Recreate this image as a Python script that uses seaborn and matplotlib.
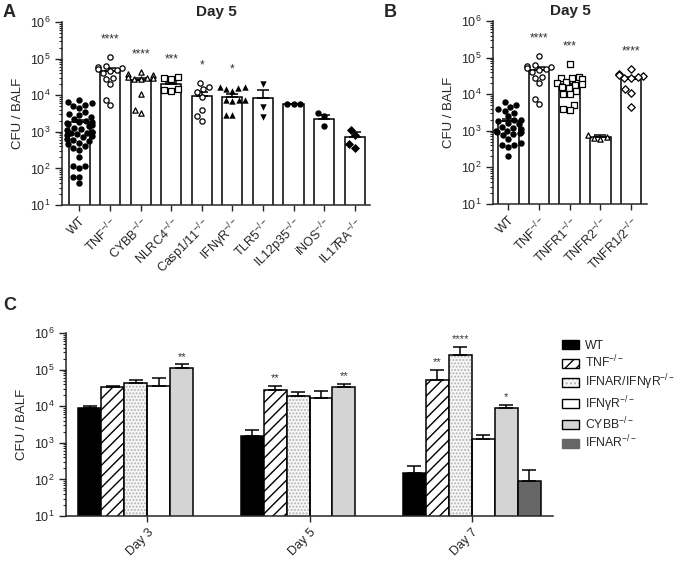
import warnings
import numpy as np
import pandas as pd
import matplotlib
matplotlib.use('Agg')
import matplotlib.pyplot as plt
import seaborn as sns
from matplotlib.patches import Patch, Rectangle

warnings.filterwarnings('ignore')

# ---- panel A : day 5, CFU per BALF ----
names_a = ['WT', 'TNF', 'CYBB', 'NLRC4', 'Casp1/11', 'IFNγR', 'TLR5', 'IL12p35', 'iNOS', 'IL17RA']
labels_a = ['WT', 'TNF$^{-/-}$', 'CYBB$^{-/-}$', 'NLRC4$^{-/-}$', 'Casp1/11$^{-/-}$', 'IFNγR$^{-/-}$',
            'TLR5$^{-/-}$', 'IL12p35$^{-/-}$', 'iNOS$^{-/-}$', 'IL17RA$^{-/-}$']
mean_a = [1800, 46000, 26000, 20000, 9500, 8700, 8600, 5600, 2300, 700]
sem_a = [250, 8000, 4000, 2500, 3000, 2000, 5000, 100, 550, 300]
stars_a = ['', '****', '****', '***', '*', '*', '', '', '', '']
wt_a = [7400, 6500, 6000, 5500, 5000, 4500, 3500, 3000, 2800, 2500, 2200, 2000, 1900, 1800, 1700,
        1600, 1500, 1400, 1300, 1200, 1100, 1000, 1000, 950, 900, 850, 800, 750, 700, 650, 600,
        550, 500, 450, 400, 350, 320, 200, 120, 120, 100, 60, 60, 40]
tnf_a = [110000, 62000, 58000, 55000, 52000, 50000, 45000, 40000, 30000, 28000, 20000, 7500, 5300]
cybb_a = [44000, 38000, 35000, 32000, 30000, 29000, 28000, 27000, 10500, 4000, 3200]
nlrc4_a = [29000, 27000, 31000, 14000, 13000, 14500]
casp_a = [22000, 17000, 15000, 12000, 9000, 4000, 2700, 2000]
ifngr_a = [17000, 16500, 16000, 15000, 13000, 7500, 7200, 7000, 7400, 2900, 2800]
tlr5_a = [20000, 4700, 2500]
il12_a = [5600, 5600, 5600]
inos_a = [3300, 2700, 1400]
il17_a = [1100, 800, 450, 350]
points_a = [wt_a, tnf_a, cybb_a, nlrc4_a, casp_a, ifngr_a, tlr5_a, il12_a, inos_a, il17_a]

# ---- panel B : TNF receptors, day 5 ----
names_b = ['WT', 'TNF', 'TNFR1', 'TNFR2', 'TNFR1/2']
labels_b = ['WT', 'TNF$^{-/-}$', 'TNFR1$^{-/-}$', 'TNFR2$^{-/-}$', 'TNFR1/2$^{-/-}$']
mean_b = [1800, 46000, 19000, 690, 26000]
sem_b = [300, 8000, 4000, 60, 4000]
stars_b = ['', '****', '***', '', '****']
wt_b = [6000, 5000, 4500, 4000, 3500, 3000, 2500, 2000, 2000, 1800, 1600, 1500, 1300, 1200, 1100,
        1000, 1000, 950, 900, 850, 800, 750, 600, 450, 420, 400, 350, 200]
tnf_b = [110000, 62000, 58000, 55000, 52000, 50000, 45000, 40000, 30000, 28000, 20000, 7500, 5300]
tnfr1_b = [67000, 29000, 28000, 27000, 26000, 22000, 20000, 19000, 18000, 16000, 15000, 12000,
           10000, 10000, 5000, 4000, 3600]
tnfr2_b = [780, 680, 600, 640]
tnfr12_b = [49000, 35000, 33000, 31000, 30000, 28000, 27000, 14000, 11000, 4600]
points_b = [wt_b, tnf_b, tnfr1_b, tnfr2_b, tnfr12_b]

# ---- panel C : time course ----
days = ['Day 3', 'Day 5', 'Day 7']
genotypes_c = ['WT', 'TNF', 'IFNAR/IFNγR', 'IFNγR', 'CYBB', 'IFNAR']
legend_c = ['WT', 'TNF$^{-/-}$', 'IFNAR/IFNγR$^{-/-}$', 'IFNγR$^{-/-}$', 'CYBB$^{-/-}$', 'IFNAR$^{-/-}$']
wt_c = [8700, 1560, 153]
tnf_c = [34000, 27700, 52000]
dko_c = [44000, 19000, 245000]
ifngr_c = [36000, 16400, 1270]
cybb_c = [108000, 32800, 9100]
ifnar_c = [np.nan, np.nan, 89]
wt_c_err = [1200, 680, 84]
tnf_c_err = [1000, 7800, 48000]
dko_c_err = [8000, 5000, 165000]
ifngr_c_err = [22000, 9600, 330]
cybb_c_err = [30000, 7200, 1600]
ifnar_c_err = [np.nan, np.nan, 89]
stars_c = [['', '', ''], ['', '**', '**'], ['', '', '****'], ['', '', ''], ['**', '**', '*'], ['', '', '']]

sns.set_style('ticks')
plt.rcParams['font.family'] = ['Liberation Sans', 'DejaVu Sans']
plt.rcParams['mathtext.fontset'] = 'custom'
plt.rcParams['mathtext.rm'] = 'Liberation Sans'
plt.rcParams['mathtext.it'] = 'Liberation Sans:italic'
plt.rcParams['mathtext.bf'] = 'Liberation Sans:bold'
plt.rcParams['hatch.linewidth'] = 1.0
plt.rcParams['axes.linewidth'] = 1.1

fig = plt.figure(figsize=(6.77, 5.62), dpi=100)
ax_a = fig.add_axes([62 / 677, 1 - 205 / 562, 308 / 677, 183 / 562])
ax_b = fig.add_axes([493 / 677, 1 - 204 / 562, 154 / 677, 183 / 562])
ax_c = fig.add_axes([66 / 677, 1 - 516 / 562, 487 / 677, 183 / 562])

markers_a = ['o', 'o', '^', 's', 'o', '^', 'v', 'o', 'o', 'D']
filled_a = [True, False, False, False, False, True, True, True, True, True]
markers_b = ['o', 'o', 's', '^', 'D']
filled_b = [True, False, False, False, False]


def dot_panel(ax, names, labels, means, sems, points, markers, filled, stars, width, xlim):
    ax.set_yscale('log')
    ax.set_ylim(10, 1e6)
    sns.barplot(x=names, y=means, order=names, color='white', edgecolor='black',
                linewidth=1.1, width=width, ax=ax)
    ax.errorbar(range(len(names)), means, yerr=[np.zeros(len(sems)), sems], fmt='none',
                ecolor='black', elinewidth=1.1, capsize=4, capthick=1.1, zorder=3)
    for name, pts, m, f in zip(names, points, markers, filled):
        if f:
            sns.swarmplot(x=[name] * len(pts), y=pts, order=names, marker=m, color='black',
                          linewidth=0, size=4.6, ax=ax, zorder=4)
        else:
            sns.swarmplot(x=[name] * len(pts), y=pts, order=names, marker=m, color='white',
                          edgecolor='black', linewidth=0.9, size=3.8, ax=ax, zorder=4)
    for i, (pts, s) in enumerate(zip(points, stars)):
        if s:
            ax.text(i, max(pts) * 3, s, ha='center', va='center', fontsize=8.5, color='#333333')
    ax.set_xlim(*xlim)
    ax.set_xticks(range(len(names)))
    ax.set_xticklabels(labels, rotation=45, ha='right', rotation_mode='anchor', fontsize=9)
    ax.set_ylabel('CFU / BALF', fontsize=9.5)
    ax.set_title('Day 5', fontweight='bold', fontsize=11, pad=4)
    ax.tick_params(axis='y', labelsize=9, length=5, width=1)
    ax.tick_params(axis='y', which='minor', length=2.5, width=0.8)
    ax.tick_params(axis='x', length=4, width=1)
    sns.despine(ax=ax)


dot_panel(ax_a, names_a, labels_a, mean_a, sem_a, points_a, markers_a, filled_a, stars_a, 0.66, (-0.57, 9.5))
dot_panel(ax_b, names_b, labels_b, mean_b, sem_b, points_b, markers_b, filled_b, stars_b, 0.68, (-0.5, 4.52))

# panel C
colors_c = ['black', 'white', '#f7f7f7', 'white', '#d4d4d4', '#666666']
rows = []
for g, vals, errs, st in zip(genotypes_c,
                             [wt_c, tnf_c, dko_c, ifngr_c, cybb_c, ifnar_c],
                             [wt_c_err, tnf_c_err, dko_c_err, ifngr_c_err, cybb_c_err, ifnar_c_err],
                             stars_c):
    for d, v, e, s in zip(days, vals, errs, st):
        if not np.isnan(v):
            rows.append([d, g, v, e, s])
df_c = pd.DataFrame(rows, columns=['day', 'genotype', 'cfu', 'sem', 'star'])

ax_c.set_yscale('log')
ax_c.set_ylim(10, 1e6)
sns.barplot(data=df_c, x='day', y='cfu', hue='genotype', order=days, hue_order=genotypes_c,
            palette=dict(zip(genotypes_c, colors_c)), edgecolor='black', linewidth=1.1,
            width=0.85, errorbar=None, legend=False, saturation=1, ax=ax_c)

for g, cont in zip(genotypes_c, ax_c.containers):
    sub = df_c[df_c['genotype'] == g].set_index('day')
    for bar in cont:
        xc = bar.get_x() + bar.get_width() / 2
        day = days[int(round(xc))]
        if g == 'TNF':
            bar.set_hatch('///')
        if g == 'IFNAR/IFNγR':
            bar.set_edgecolor('#b5b5b5')
            bar.set_hatch('.....')
            bar.set_linewidth(0)
            ax_c.add_patch(Rectangle((bar.get_x(), bar.get_y()), bar.get_width(), bar.get_height(),
                                     fill=False, edgecolor='black', linewidth=1.1, zorder=2.5))
        v = sub.loc[day, 'cfu']
        e = sub.loc[day, 'sem']
        ax_c.errorbar([xc], [v], yerr=[[0], [e]], fmt='none', ecolor='black',
                      elinewidth=1.1, capsize=5, capthick=1.1, zorder=3)
        s = sub.loc[day, 'star']
        if s:
            ax_c.annotate(s, (xc, v + e), xytext=(0, 2), textcoords='offset points',
                          ha='center', va='bottom', fontsize=8, color='#333333')

ax_c.set_xlim(-0.5, 2.5)
ax_c.set_xlabel('')
ax_c.set_ylabel('CFU / BALF', fontsize=9.5)
ax_c.set_xticks(range(len(days)))
ax_c.set_xticklabels(days, rotation=45, ha='right', rotation_mode='anchor', fontsize=9)
ax_c.tick_params(axis='y', labelsize=9, length=5, width=1)
ax_c.tick_params(axis='y', which='minor', length=2.5, width=0.8)
ax_c.tick_params(axis='x', length=4, width=1)
sns.despine(ax=ax_c)

handles = []
for g, c in zip(genotypes_c, colors_c):
    if g == 'TNF':
        handles.append(Patch(facecolor=c, edgecolor='black', hatch='///', linewidth=1))
    elif g == 'IFNAR/IFNγR':
        handles.append((Patch(facecolor=c, edgecolor='#b5b5b5', hatch='....', linewidth=0),
                        Patch(fill=False, edgecolor='black', linewidth=1)))
    else:
        handles.append(Patch(facecolor=c, edgecolor='black' if g != 'IFNAR' else c, linewidth=1))
fig.legend(handles, legend_c, loc='upper left', bbox_to_anchor=(562 / 677, 1 - 340 / 562),
           frameon=False, fontsize=8.8, handlelength=1.4, handleheight=0.75,
           handletextpad=0.45, labelspacing=0.16, borderpad=0, borderaxespad=0)

fig.text(3 / 677, 1 - 4 / 562, 'A', fontsize=13, fontweight='bold', va='top', ha='left')
fig.text(384 / 677, 1 - 4 / 562, 'B', fontsize=13, fontweight='bold', va='top', ha='left')
fig.text(3 / 677, 1 - 297 / 562, 'C', fontsize=13, fontweight='bold', va='top', ha='left')

fig.savefig('out.png', dpi=100)
